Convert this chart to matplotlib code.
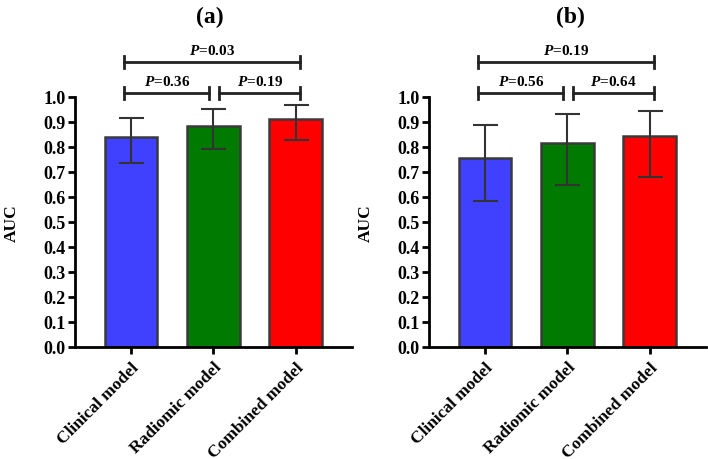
import numpy as np
import matplotlib
matplotlib.use("Agg")
import matplotlib.pyplot as plt

plt.rcParams['font.family'] = ['Liberation Serif', 'DejaVu Serif']
plt.rcParams['font.weight'] = 'bold'
plt.rcParams['mathtext.fontset'] = 'custom'
plt.rcParams['mathtext.it'] = 'Liberation Serif:italic:bold'
plt.rcParams['mathtext.rm'] = 'Liberation Serif:bold'

models = ["Clinical model", "Radiomic model", "Combined model"]
colors = ["#4040ff", "#007a00", "#ff0000"]

# panel (a)
auc_a = [0.84, 0.884, 0.912]
low_a = [0.736, 0.792, 0.828]
high_a = [0.916, 0.950, 0.968]
p_a = ["0.36", "0.19", "0.03"]

# panel (b)
auc_b = [0.756, 0.816, 0.844]
low_b = [0.584, 0.648, 0.680]
high_b = [0.888, 0.930, 0.944]
p_b = ["0.56", "0.64", "0.19"]

fig = plt.figure(figsize=(7.08, 4.6), dpi=100)
ax1 = fig.add_axes([0.106, 0.2435, 0.391, 0.5435])
ax2 = fig.add_axes([0.606, 0.2435, 0.391, 0.5435])


def bracket(ax, x0, x1, y, txt, dy=0.024):
    ax.plot([x0, x1], [y, y], color="#222222", lw=2, clip_on=False)
    ax.plot([x0, x0], [y - dy, y + dy], color="#222222", lw=2, clip_on=False)
    ax.plot([x1, x1], [y - dy, y + dy], color="#222222", lw=2, clip_on=False)
    ax.text((x0 + x1) / 2, y + 0.018, r"$\mathit{P}$=" + txt, ha="center",
            va="bottom", fontsize=11, fontweight="bold", clip_on=False)


def panel(ax, auc, low, high, pv, title, tx):
    x = np.arange(len(models))
    auc = np.array(auc)
    err = [auc - np.array(low), np.array(high) - auc]
    ax.bar(x, auc, width=0.64, color=colors, edgecolor="#3a3a3a", linewidth=1.8,
           zorder=2)
    ax.errorbar(x, auc, yerr=err, fmt="none", ecolor="#333333", elinewidth=1.5,
                capsize=9, capthick=1.5, zorder=3)
    ax.set_xlim(-0.68, 2.68)
    ax.set_ylim(0, 1.0)
    ax.set_yticks(np.arange(0, 1.01, 0.1))
    ax.set_yticklabels(["%.1f" % v for v in np.arange(0, 1.01, 0.1)])
    ax.set_xticks(x)
    ax.set_xticklabels(models, rotation=45, ha="right", rotation_mode="anchor",
                       fontsize=12.5)
    ax.tick_params(axis="y", labelsize=13, width=2, length=5, pad=2)
    ax.tick_params(axis="x", width=2, length=5)
    for s in ["top", "right"]:
        ax.spines[s].set_visible(False)
    for s in ["left", "bottom"]:
        ax.spines[s].set_linewidth(2)
    ax.set_ylabel("AUC", fontsize=12.5, fontweight="bold", labelpad=17)
    fig.text(tx, 1 - 17 / 460, title, fontsize=17, fontweight="bold",
             ha="center", va="center")
    # significance brackets
    bracket(ax, -0.08, 0.95, 1.016, pv[0])
    bracket(ax, 1.07, 2.05, 1.016, pv[1])
    bracket(ax, -0.08, 2.05, 1.14, pv[2])


panel(ax1, auc_a, low_a, high_a, p_a, "(a)", 210 / 708)
panel(ax2, auc_b, low_b, high_b, p_b, "(b)", 570 / 708)

fig.savefig("out.png", dpi=100)
